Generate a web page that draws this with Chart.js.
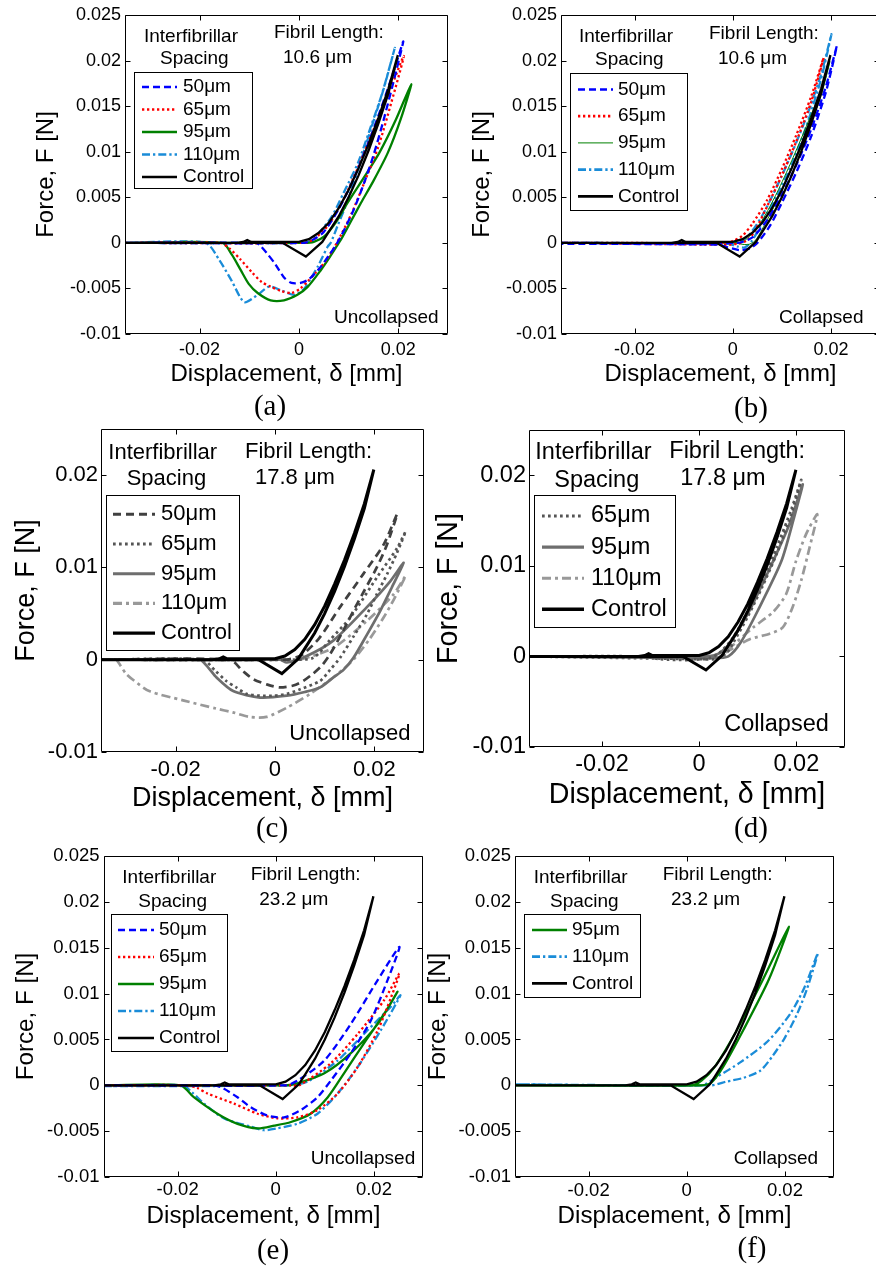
<!DOCTYPE html>
<html><head><meta charset="utf-8">
<script src="https://cdn.jsdelivr.net/npm/chart.js@4.4.1/dist/chart.umd.min.js"></script>
<style>
html,body{margin:0;padding:0;background:#fff;}
body{width:876px;height:1266px;position:relative;overflow:hidden;}
canvas{position:absolute;}
.ann{position:absolute;white-space:nowrap;line-height:1;color:#000;font-family:"Liberation Sans",Arial,sans-serif;}
.lab{position:absolute;white-space:nowrap;line-height:1;color:#000;font-family:"Liberation Serif","Times New Roman",serif;text-align:center;width:80px;}
</style></head><body>
<canvas id="pa"></canvas><canvas id="pb"></canvas>
<canvas id="pc"></canvas><canvas id="pd"></canvas>
<canvas id="pe"></canvas><canvas id="pf"></canvas>
<script>
// ---------- axis ranges & tick labels ----------
const xMin = -0.035, xMax = 0.03, yMin = -0.01, yMax = 0.025;
const xTicks = [-0.02, 0, 0.02];
const yTicksFine = [-0.01, -0.005, 0, 0.005, 0.01, 0.015, 0.02, 0.025];
const yTicksCoarse = [-0.01, 0, 0.01, 0.02];

// ---------- data: [displacement mm, force N], loading then unloading ----------
const control = [[-0.035,0],[-0.0125,0],[-0.0112,0.0001],[-0.0104,0.0003],[-0.0096,0.0001],[-0.004,0.0001],[0,0.0001],[0.002,0.0004],[0.004,0.0011],[0.006,0.0022],[0.008,0.0038],[0.010,0.0058],[0.012,0.0082],[0.014,0.0108],[0.016,0.0137],[0.018,0.0169],[0.0199,0.0206],
[0.018,0.0164],[0.016,0.0131],[0.014,0.0101],[0.012,0.0074],[0.010,0.0050],[0.008,0.0029],[0.006,0.0012],[0.0047,0.0001],[0.0014,-0.0015],[-0.0033,0],[-0.035,0]];

const a50 = [[-0.035,0],[0.001,0],[0.003,0.0004],[0.005,0.0012],[0.008,0.0037],[0.011,0.0070],[0.014,0.0110],[0.017,0.0155],[0.019,0.0187],[0.021,0.0221],
[0.019,0.0176],[0.017,0.0134],[0.015,0.0096],[0.013,0.0064],[0.011,0.0036],[0.009,0.0013],[0.0075,-0.0002],[0.006,-0.0014],[0.004,-0.0029],[0.002,-0.0040],[0.0003,-0.0044],[-0.0015,-0.0044],[-0.003,-0.0038],[-0.0048,-0.0023],[-0.0065,-0.0011],[-0.0078,-0.0003],[-0.0086,0],[-0.035,0]];
const a65 = [[-0.035,0],[0.001,0],[0.003,0.0004],[0.006,0.0020],[0.009,0.0048],[0.012,0.0084],[0.015,0.0124],[0.018,0.0163],[0.0211,0.0205],
[0.0186,0.0154],[0.016,0.0106],[0.013,0.0064],[0.0105,0.0031],[0.0085,0.0009],[0.007,-0.0006],[0.0055,-0.0019],[0.0035,-0.0032],[0.0018,-0.0042],[0.0003,-0.0050],[-0.0015,-0.0055],[-0.0035,-0.0053],[-0.0057,-0.0048],[-0.0075,-0.0043],[-0.0095,-0.0032],[-0.0118,-0.0018],[-0.014,-0.0006],[-0.0158,0],[-0.035,0]];
const a95 = [[-0.035,0],[0.001,0],[0.003,0.0001],[0.0051,0.0007],[0.0075,0.0023],[0.0098,0.0044],[0.013,0.0071],[0.0162,0.0099],[0.0195,0.0135],[0.0226,0.0174],
[0.0205,0.0136],[0.0179,0.0099],[0.015,0.0068],[0.0125,0.0044],[0.0105,0.0024],[0.0085,0.0004],[0.0071,-0.0008],[0.0058,-0.0019],[0.0044,-0.0030],[0.0018,-0.0048],[-0.0003,-0.0057],[-0.003,-0.0063],[-0.0057,-0.0063],[-0.0083,-0.0055],[-0.0101,-0.0045],[-0.0117,-0.0030],[-0.0135,-0.0013],[-0.0154,0],[-0.035,0]];
const a110 = [[-0.035,0],[0.001,0],[0.003,0.0005],[0.0065,0.0028],[0.009,0.0055],[0.0119,0.0088],[0.0145,0.0128],[0.0168,0.0165],[0.0193,0.0214],
[0.017,0.0168],[0.0145,0.0125],[0.012,0.0082],[0.0095,0.0042],[0.0078,0.0019],[0.0064,0],[0.0058,-0.0004],[0.0048,-0.0015],[0.0038,-0.0026],[0.0025,-0.0038],[0.0011,-0.0050],[-0.0009,-0.0057],[-0.0036,-0.0052],[-0.006,-0.0048],[-0.0083,-0.0057],[-0.011,-0.0065],[-0.0135,-0.0042],[-0.016,-0.0019],[-0.0188,0],[-0.035,0]];

const b50 = [[-0.035,0],[0.001,0],[0.004,0.0006],[0.007,0.0025],[0.010,0.0053],[0.013,0.0086],[0.016,0.0125],[0.019,0.0172],[0.0212,0.0216],
[0.019,0.0166],[0.016,0.0117],[0.013,0.0078],[0.010,0.0044],[0.0075,0.0018],[0.005,0],[0.0035,-0.0006],[0.0015,-0.0008],[-0.001,-0.0005],[-0.003,-0.0002],[-0.035,-0.0001]];
const b65 = [[-0.035,0],[-0.002,0],[0,0.0002],[0.002,0.0008],[0.004,0.0021],[0.007,0.0047],[0.010,0.0081],[0.013,0.0119],[0.016,0.0161],[0.0185,0.0203],
[0.016,0.0155],[0.013,0.0112],[0.010,0.0074],[0.007,0.0040],[0.0045,0.0013],[0.003,0.0003],[0.001,-0.0001],[-0.002,-0.0002],[-0.035,0]];
const b95 = [[-0.035,0],[0.001,0],[0.003,0.0005],[0.006,0.0025],[0.009,0.0055],[0.012,0.0090],[0.015,0.0128],[0.018,0.0168],[0.0198,0.0199],
[0.018,0.0162],[0.015,0.0118],[0.012,0.0081],[0.009,0.0046],[0.006,0.0015],[0.0045,0.0002],[0.003,-0.0002],[0,0],[-0.035,0]];
const b110 = [[-0.035,0],[0,0],[0.003,0.0007],[0.006,0.0030],[0.009,0.0062],[0.012,0.0098],[0.015,0.0138],[0.018,0.0185],[0.0201,0.0229],
[0.018,0.0180],[0.015,0.0128],[0.012,0.0086],[0.009,0.0052],[0.006,0.0022],[0.004,0.0003],[0.0025,-0.0005],[0.001,-0.0004],[-0.001,-0.0001],[-0.035,0]];

const c50 = [[-0.035,0],[0.002,0],[0.004,0.0002],[0.0057,0.0006],[0.009,0.0024],[0.0131,0.0057],[0.0178,0.0093],[0.0219,0.0125],[0.0246,0.0158],
[0.0225,0.0124],[0.0205,0.0100],[0.018,0.0075],[0.0158,0.0053],[0.0135,0.0029],[0.0111,0.0006],[0.0095,-0.0006],[0.0077,-0.0015],[0.0057,-0.0023],[0.0037,-0.0028],[0.001,-0.0030],[-0.0015,-0.0027],[-0.0044,-0.0021],[-0.0065,-0.0012],[-0.0091,0],[-0.035,0]];
const c65 = [[-0.035,0],[0.003,0],[0.0077,0.0002],[0.011,0.0021],[0.0152,0.0046],[0.0205,0.0089],[0.0246,0.0121],[0.0263,0.0139],
[0.0245,0.0115],[0.0226,0.0093],[0.0205,0.0071],[0.0185,0.0049],[0.0158,0.0025],[0.0131,0.0002],[0.0111,-0.0011],[0.0091,-0.0023],[0.0051,-0.0032],[0.0024,-0.0037],[-0.0003,-0.0039],[-0.003,-0.0039],[-0.0057,-0.0037],[-0.0078,-0.0030],[-0.0098,-0.0023],[-0.012,-0.0012],[-0.0145,0],[-0.035,0]];
const c95 = [[-0.035,0],[0.001,0],[0.0024,-0.0003],[0.0064,0.0004],[0.0118,0.0021],[0.0185,0.0057],[0.0232,0.0085],[0.0259,0.0105],
[0.0235,0.0078],[0.0212,0.0053],[0.0185,0.0027],[0.0158,0.0002],[0.0138,-0.0011],[0.0118,-0.0019],[0.0091,-0.0030],[0.006,-0.0035],[0.0024,-0.0039],[-0.003,-0.0041],[-0.0084,-0.0034],[-0.0118,-0.0019],[-0.0135,-0.0008],[-0.0152,0],[-0.035,0]];
const c110 = [[-0.035,0],[0.002,0],[0.005,0],[0.0118,0.0013],[0.0185,0.0042],[0.0239,0.0071],[0.0263,0.0091],
[0.024,0.0066],[0.0219,0.0046],[0.019,0.0022],[0.0158,0],[0.0138,-0.0010],[0.0118,-0.0019],[0.0071,-0.0037],[0.0024,-0.0052],[-0.0017,-0.0062],[-0.0051,-0.0062],[-0.0085,-0.0057],[-0.0118,-0.0053],[-0.0185,-0.0044],[-0.0253,-0.0034],[-0.0285,-0.0022],[-0.03,-0.0015],[-0.031,-0.0007],[-0.032,0],[-0.035,0]];

const d65 = [[-0.035,0],[-0.012,0],[-0.008,-0.0003],[-0.002,-0.0004],[0.002,-0.0002],[0.004,0.0003],[0.007,0.0021],[0.010,0.0050],[0.013,0.0083],[0.016,0.0121],[0.019,0.0163],[0.021,0.0195],
[0.019,0.0158],[0.016,0.0114],[0.013,0.0077],[0.010,0.0044],[0.007,0.0015],[0.0055,0.0003],[0.003,-0.0003],[0,-0.0003],[-0.035,0]];
const d95 = [[-0.035,0],[0.002,0],[0.004,0.0003],[0.0065,0.0016],[0.0104,0.0051],[0.0152,0.0105],[0.0185,0.0145],[0.0213,0.0190],
[0.0195,0.0153],[0.0169,0.0105],[0.0121,0.0051],[0.0085,0.0015],[0.006,0],[0.003,-0.0002],[-0.035,0]];
const d110 = [[-0.035,0],[0.002,0],[0.0063,0.0010],[0.0111,0.0032],[0.0152,0.0049],[0.0179,0.0069],[0.0199,0.0105],[0.022,0.0135],[0.0243,0.0157],
[0.0227,0.0120],[0.021,0.0084],[0.0192,0.0054],[0.0172,0.0032],[0.0145,0.0025],[0.0104,0.0019],[0.0063,0.0007],[0.004,0],[-0.035,0]];

const e50 = [[-0.035,0],[0.002,0],[0.0044,0.0005],[0.0099,0.0027],[0.0153,0.0067],[0.0208,0.0115],[0.0252,0.0151],
[0.0228,0.0115],[0.0194,0.0071],[0.0153,0.0035],[0.0112,0.0005],[0.0085,-0.0013],[0.0051,-0.0027],[0.0017,-0.0035],[-0.0017,-0.0033],[-0.0051,-0.0024],[-0.0078,-0.0013],[-0.0112,-0.0002],[-0.013,0],[-0.035,0]];
const e65 = [[-0.035,0],[0.003,0],[0.0048,0],[0.0112,0.0024],[0.0167,0.0056],[0.0221,0.0093],[0.0252,0.0122],
[0.0235,0.0096],[0.0208,0.0060],[0.0167,0.0020],[0.0126,-0.0009],[0.0085,-0.0027],[0.0044,-0.0035],[0.0003,-0.0036],[-0.0037,-0.0031],[-0.0085,-0.0020],[-0.0139,-0.0009],[-0.016,-0.0003],[-0.018,0],[-0.035,0]];
const e95 = [[-0.035,0],[0.002,0],[0.0044,0.0002],[0.0099,0.0013],[0.0153,0.0035],[0.0208,0.0067],[0.0248,0.0102],
[0.0221,0.0078],[0.018,0.0046],[0.0139,0.0013],[0.0106,-0.0013],[0.0071,-0.0031],[0.0031,-0.0040],[-0.0003,-0.0044],[-0.0037,-0.0047],[-0.0078,-0.0042],[-0.0119,-0.0031],[-0.0167,-0.0013],[-0.0194,0],[-0.035,0]];
const e110 = [[-0.035,-0.0001],[0.003,0],[0.0065,0.0004],[0.0126,0.0027],[0.0187,0.0060],[0.0235,0.0086],[0.0254,0.0098],
[0.0214,0.0060],[0.0167,0.0020],[0.0126,-0.0009],[0.0085,-0.0031],[0.0044,-0.0042],[0.0003,-0.0047],[-0.0024,-0.0049],[-0.0051,-0.0045],[-0.0106,-0.0036],[-0.0146,-0.0020],[-0.017,-0.0008],[-0.019,0],[-0.035,-0.0001]];

const f95 = [[-0.035,0],[0.001,0],[0.003,0.0005],[0.0057,0.0020],[0.0102,0.0060],[0.0155,0.0115],[0.0208,0.0173],
[0.0167,0.0115],[0.0115,0.0060],[0.0074,0.0020],[0.005,0.0003],[0.003,0],[-0.035,0]];
const f110 = [[-0.035,0.0001],[0.003,0],[0.0061,0.0009],[0.0109,0.0025],[0.0165,0.0048],[0.0211,0.0078],[0.024,0.0107],[0.0267,0.0144],
[0.0245,0.0105],[0.0225,0.0078],[0.02,0.0052],[0.0175,0.0032],[0.015,0.0016],[0.0115,0.0008],[0.0081,0.0004],[0.005,0],[-0.035,0.0001]];

// ---------- styles ----------
const ST = {
  s50:{color:'#0000ff',width:2.3,dash:[7,4]},
  s65:{color:'#ff0000',width:2.3,dash:[2.3,2.7]},
  s95:{color:'#008000',width:2.3,dash:[]},
  s95t:{color:'#008000',width:1,dash:[]},
  s110:{color:'#1a8cd8',width:2.3,dash:[8,3,2.3,3]},
  ctl:{color:'#000000',width:2.3,dash:[]},
  g50:{color:'#404040',width:2.7,dash:[8,5]},
  g65:{color:'#555555',width:2.7,dash:[2.7,3.3]},
  g95:{color:'#6e6e6e',width:2.7,dash:[]},
  g110:{color:'#999999',width:2.7,dash:[9,4,3,4]},
  gctl:{color:'#000000',width:3,dash:[]}
};

const panels = [
 {id:'pa', rect:[0,0,460,400], area:[125,15,448,334], yt:yTicksFine, tf:18, xp:5, yp:4, ttf:24, yTP:31.6, xTP:11.6,
  series:[['50μm',a50,'s50'],['65μm',a65,'s65'],['95μm',a95,'s95'],['110μm',a110,'s110'],['Control',control,'ctl']],
  legend:{box:[134,72,118,116],row0:87,dy:22.5,x1:142,x2:177,tx:183,fs:19}},
 {id:'pb', rect:[440,0,450,400], area:[561,15,880,334], yt:yTicksFine, tf:18, xp:5, yp:4, ttf:24, yTP:28.3, xTP:11.6,
  series:[['50μm',b50,'s50'],['65μm',b65,'s65'],['95μm',b95,'s95t'],['110μm',b110,'s110'],['Control',control,'ctl']],
  legend:{box:[570,73,117,137],row0:89.5,dy:26.7,x1:578,x2:613,tx:618,fs:19}},
 {id:'pc', rect:[0,410,440,420], area:[101,429,424,752], yt:yTicksCoarse, tf:22, xp:4.8, yp:3, ttf:27, yTP:10.5, xTP:15.5,
  series:[['50μm',c50,'g50'],['65μm',c65,'g65'],['95μm',c95,'g95'],['110μm',c110,'g110'],['Control',control,'gctl']],
  legend:{box:[106,495,133,155],row0:514.3,dy:29.7,x1:113,x2:155,tx:161,fs:22}},
 {id:'pd', rect:[425,410,435,420], area:[529,430,845,747], yt:yTicksCoarse, tf:23.5, xp:3.9, yp:3, ttf:28.6, yTP:7.1, xTP:17.8,
  series:[['65μm',d65,'g65'],['95μm',d95,'g95'],['110μm',d110,'g110'],['Control',control,'gctl']],
  legend:{box:[534,495,141,132],row0:516,dy:31.1,x1:542,x2:584,tx:591,fs:23.5}},
 {id:'pe', rect:[0,840,435,426], area:[104,856,423,1177], yt:yTicksFine, tf:18.5, xp:2, yp:4.5, ttf:24.2, yTP:12.2, xTP:34.8,
  series:[['50μm',e50,'s50'],['65μm',e65,'s65'],['95μm',e95,'s95'],['110μm',e110,'s110'],['Control',control,'ctl']],
  legend:{box:[111,914,116,137],row0:930,dy:27,x1:118,x2:154,tx:159,fs:19}},
 {id:'pf', rect:[420,840,430,426], area:[515,856,834,1177], yt:yTicksFine, tf:18.5, xp:2.5, yp:4, ttf:24.2, yTP:4, xTP:35.5,
  series:[['95μm',f95,'s95'],['110μm',f110,'s110'],['Control',control,'ctl']],
  legend:{box:[524,914,116,83],row0:930,dy:26.7,x1:532,x2:567,tx:572,fs:19}}
];

const notes = [
 ['Interfibrillar',144,35,19],['Spacing',160,57.5,19],['Fibril Length:',274,31.5,19],['10.6 μm',283,56.3,19],['Uncollapsed',334,316,19],
 ['Interfibrillar',579,35.5,19],['Spacing',595,58.3,19],['Fibril Length:',709,32.2,19],['10.6 μm',718,57,19],['Collapsed',779,316.3,19],
 ['Interfibrillar',108.3,452,22],['Spacing',126.7,477.8,22],['Fibril Length:',245,450.5,22],['17.8 μm',255,477.2,22],['Uncollapsed',289.3,733,22],
 ['Interfibrillar',535.3,451.7,23.5],['Spacing',554.3,479.5,23.5],['Fibril Length:',669.3,450.2,23.5],['17.8 μm',680.3,477.8,23.5],['Collapsed',724.3,723.7,23.5],
 ['Interfibrillar',122.3,876.7,19],['Spacing',138.3,900,19],['Fibril Length:',250.7,873,19],['23.2 μm',259.3,898.7,19],['Uncollapsed',310.7,1157.3,19],
 ['Interfibrillar',533.7,876.7,19],['Spacing',550,900,19],['Fibril Length:',662.7,873,19],['23.2 μm',671,898.7,19],['Collapsed',733.7,1157.3,19]
];
const panelLabels = [['(a)',270,408],['(b)',751,410],['(c)',272,830],['(d)',751,830],['(e)',273,1251.5],['(f)',752,1250]];

const FONT = '"Liberation Sans", Arial, sans-serif';
Chart.defaults.font.family = FONT;
Chart.defaults.color = '#000';

const fmt = v => String(+(+v).toFixed(4));

const framePlugin = {
  id:'frame',
  afterDatasetsDraw(chart){
    const {ctx, chartArea, scales} = chart;
    const L = Math.round(chartArea.left)+0.5, T = Math.round(chartArea.top)+0.5;
    const R = Math.round(chartArea.right)-0.5, B = Math.round(chartArea.bottom)-0.5;
    const tl = 5;
    ctx.save();
    ctx.strokeStyle = '#000'; ctx.lineWidth = 1; ctx.setLineDash([]);
    ctx.beginPath();
    ctx.rect(L, T, R-L, B-T);
    scales.x.ticks.forEach(tk => {
      const px = Math.round(scales.x.getPixelForValue(tk.value))+0.5;
      ctx.moveTo(px, B); ctx.lineTo(px, B-tl);
      ctx.moveTo(px, T); ctx.lineTo(px, T+tl);
    });
    scales.y.ticks.forEach(tk => {
      const py = Math.round(scales.y.getPixelForValue(tk.value))+0.5;
      ctx.moveTo(L, py); ctx.lineTo(L+tl, py);
      ctx.moveTo(R, py); ctx.lineTo(R-tl, py);
    });
    ctx.stroke();
    ctx.restore();
  }
};

const legendPlugin = {
  id:'mplLegend',
  afterDraw(chart, args, o){
    const ctx = chart.ctx;
    ctx.save();
    ctx.translate(-o.ox, -o.oy);
    const [bx,by,bw,bh] = o.box;
    ctx.fillStyle = '#fff';
    ctx.fillRect(bx, by, bw, bh);
    ctx.strokeStyle = '#000'; ctx.lineWidth = 1; ctx.setLineDash([]);
    ctx.strokeRect(Math.round(bx)+0.5, Math.round(by)+0.5, Math.round(bw), Math.round(bh));
    chart.data.datasets.forEach((ds, i) => {
      const yy = o.row0 + i*o.dy;
      ctx.strokeStyle = ds.borderColor;
      ctx.lineWidth = ds.borderWidth + (ds.borderWidth > 1 ? 0.4 : 0);
      ctx.setLineDash(ds.borderDash || []);
      ctx.beginPath(); ctx.moveTo(o.x1, yy); ctx.lineTo(o.x2, yy); ctx.stroke();
      ctx.setLineDash([]);
      ctx.fillStyle = '#000';
      ctx.font = o.fs + 'px ' + FONT;
      ctx.textBaseline = 'middle'; ctx.textAlign = 'left';
      ctx.fillText(ds.label, o.tx, yy);
    });
    ctx.restore();
  }
};

panels.forEach(p => {
  const cv = document.getElementById(p.id);
  const [cl, ct, cw, ch] = p.rect;
  const [l, t, r, b] = p.area;
  cv.width = cw; cv.height = ch;
  cv.style.left = cl + 'px'; cv.style.top = ct + 'px';
  cv.style.width = cw + 'px'; cv.style.height = ch + 'px';
  const datasets = p.series.map(([label, arr, sk]) => {
    const st = ST[sk];
    return {
      label, data: arr.map(([x, y]) => ({x, y})),
      borderColor: st.color, backgroundColor: st.color, borderWidth: st.width, borderDash: st.dash,
      showLine: true, pointRadius: 0, pointHoverRadius: 0, fill: false,
      tension: label === 'Control' ? 0 : 0.25,
      order: label === 'Control' ? -1 : 0
    };
  });
  new Chart(cv, {
    type: 'scatter',
    data: {datasets},
    options: {
      responsive: false, animation: false, devicePixelRatio: 1,
      layout: {padding: {left: 0, top: t - ct, right: cl + cw - r, bottom: 0}},
      plugins: {legend: {display: false}, tooltip: {enabled: false},
                mplLegend: Object.assign({}, p.legend, {ox: cl, oy: ct})},
      events: [],
      scales: {
        x: {
          type: 'linear', position: 'bottom', min: xMin, max: xMax,
          afterBuildTicks: s => { s.ticks = xTicks.map(v => ({value: v})); },
          afterFit: s => { s.height = ct + ch - b; },
          grid: {display: false, drawTicks: false}, border: {display: false},
          ticks: {padding: p.xp, font: {size: p.tf}, color: '#000', maxRotation: 0, autoSkip: false, callback: fmt},
          title: {display: true, text: 'Displacement, δ [mm]', color: '#000', font: {size: p.ttf}, padding: {top: 0, bottom: p.xTP}}
        },
        y: {
          type: 'linear', position: 'left', min: yMin, max: yMax,
          afterBuildTicks: s => { s.ticks = p.yt.map(v => ({value: v})); },
          afterFit: s => { s.width = l - cl; },
          grid: {display: false, drawTicks: false}, border: {display: false},
          ticks: {padding: p.yp, font: {size: p.tf}, color: '#000', autoSkip: false, callback: fmt},
          title: {display: true, text: 'Force, F [N]', color: '#000', font: {size: p.ttf}, padding: {top: p.yTP, bottom: 0}}
        }
      }
    },
    plugins: [framePlugin, legendPlugin]
  });
});

notes.forEach(([txt, x, cy, fs]) => {
  const d = document.createElement('div');
  d.className = 'ann';
  d.textContent = txt;
  d.style.fontSize = fs + 'px';
  d.style.left = x + 'px';
  d.style.top = (cy - 0.4885 * fs) + 'px';
  document.body.appendChild(d);
});
panelLabels.forEach(([txt, cx, cy]) => {
  const fs = 29;
  const d = document.createElement('div');
  d.className = 'lab';
  d.textContent = txt;
  d.style.fontSize = fs + 'px';
  d.style.left = (cx - 40) + 'px';
  d.style.top = (cy - 0.58 * fs) + 'px';
  document.body.appendChild(d);
});
</script>
</body></html>
